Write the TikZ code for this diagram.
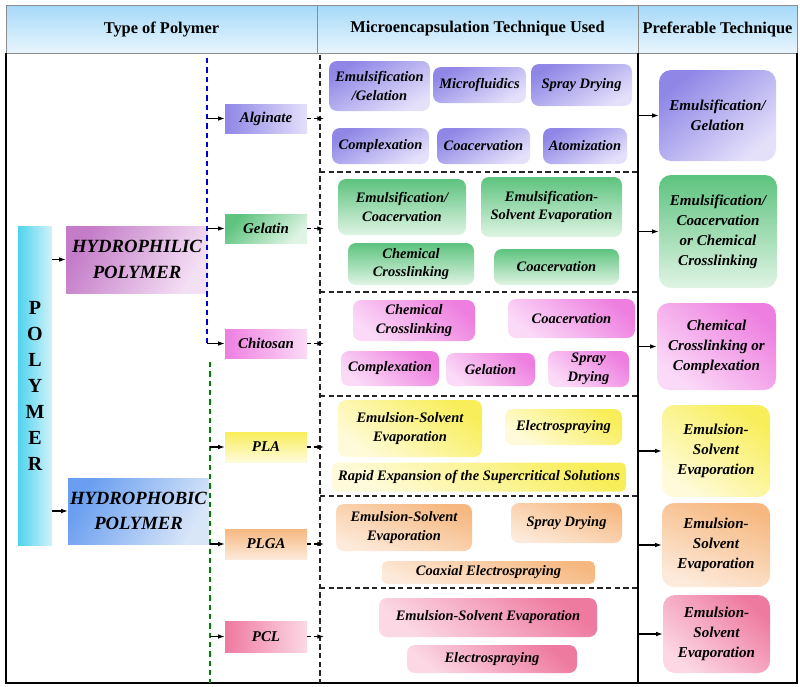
\documentclass[tikz,border=0pt]{standalone}
\usepackage{fontspec}
\setmainfont{Liberation Serif}
\usetikzlibrary{arrows.meta,calc,positioning}

\definecolor{headD}{HTML}{A6D9F8}
\definecolor{headL}{HTML}{E8F5FD}
\definecolor{cyanD}{HTML}{4FD3EE}
\definecolor{cyanL}{HTML}{D2F2F9}
\definecolor{philD}{HTML}{C47CC8}
\definecolor{philL}{HTML}{F4E0F4}
\definecolor{phobD}{HTML}{6A9EF0}
\definecolor{phobL}{HTML}{D8E6F8}
\definecolor{algD}{HTML}{8F86E6}
\definecolor{algL}{HTML}{E4E0FA}
\definecolor{gelD}{HTML}{5DC37E}
\definecolor{gelL}{HTML}{DFF4E4}
\definecolor{chiD}{HTML}{EE7FE0}
\definecolor{chiL}{HTML}{FBDAF7}
\definecolor{plaD}{HTML}{F8EE5A}
\definecolor{plaL}{HTML}{FFFBDA}
\definecolor{plgD}{HTML}{F6B880}
\definecolor{plgL}{HTML}{FDEADA}
\definecolor{pclD}{HTML}{EE7AA0}
\definecolor{pclL}{HTML}{FCD8E4}

\begin{document}
\begin{tikzpicture}[
  x=0.75pt, y=-0.75pt,
  >=Latex,
  wh/.style 2 args={
    minimum width=#1*0.75pt,
    minimum height=#2*0.75pt
  },
  heading/.style={
    font=\bfseries\fontsize{12.3}{14}\selectfont
  },
  techbox/.style={
    rounded corners=6pt,
    inner sep=1pt,
    align=center,
    font=\bfseries\itshape\fontsize{10.85}{14}\selectfont
  },
  prefbox/.style={
    techbox,
    rounded corners=9pt,
    font=\bfseries\itshape\fontsize{11.3}{15}\selectfont
  },
  polybox/.style={
    inner sep=1pt,
    align=center,
    font=\bfseries\itshape\fontsize{11.2}{13}\selectfont
  },
  classbox/.style={
    polybox,
    font=\bfseries\itshape\fontsize{14}{19}\selectfont
  },
  alg/.style={top color=algD, bottom color=algL, shading angle=30},
  gel/.style={top color=gelD, bottom color=gelL},
  chi/.style={top color=chiD, bottom color=chiL, shading angle=-40},
  pla/.style={top color=plaD, bottom color=plaL, shading angle=-35},
  plg/.style={top color=plgD, bottom color=plgL, shading angle=-20},
  pcl/.style={top color=pclD, bottom color=pclL, shading angle=-40},
  branch/.style={
    -{Latex[length=5pt,width=3.5pt]},
    line width=0.8pt,
    black
  },
  feed/.style={
    branch,
    dash pattern=on 3pt off 2pt,
    shorten >=-3pt
  },
  sep/.style={
    dash pattern=on 4pt off 2.5pt,
    line width=0.8pt,
    black!85
  },
  guide/.style={
    dash pattern=on 4pt off 3pt,
    line width=0.8pt
  }
]
\useasboundingbox (0,0) rectangle (800,686);

% Header band
\shade[top color=headD, bottom color=headL, draw=black!45]
  (6,5) rectangle (797,53);
\draw[black!45] (317,5) -- (317,53);
\draw[black!45] (638,5) -- (638,53);
\node[heading] (hType) at (161.5,29) {Type of Polymer};
\node[heading] (hTech) at (477.5,29) {Microencapsulation Technique Used};
\node[heading] (hPref) at (717.5,29) {Preferable Technique};

% Body frame
\draw[line width=1.2pt] (6,53) -- (6,683) -- (797,683) -- (797,53);
\coordinate (divtop) at (638,53);
\coordinate (divbot) at (638,683);
\draw[line width=1pt] (divtop) -- (divbot);
\coordinate (midtop) at (320,55);
\coordinate (midbot) at (320,683);
\draw[sep] (midtop) -- (midbot);
\foreach \y in {172,292,396,496,588}
  \draw[sep] (320,\y) -- (638,\y);

% Polymer classes
\node[polybox, left color=cyanD, right color=cyanL, wh={34}{319},
  font=\bfseries\fontsize{15}{19.5}\selectfont]
  (polymer) at (35,385.5) {P\\O\\L\\Y\\M\\E\\R};
\node[classbox, top color=philD, bottom color=philL, shading angle=60,
  wh={142}{67}] (hphil) at (137,259.5) {HYDROPHILIC\\POLYMER};
\node[classbox, top color=phobD, bottom color=phobL, shading angle=60,
  wh={141}{66}] (hphob) at (138.5,511) {HYDROPHOBIC\\POLYMER};

\draw[branch] (hphil.west -| polymer.east) -- (hphil.west);
\draw[branch] (hphob.west -| polymer.east) -- (hphob.west);

% Polymers
\node[polybox, left color=algD, right color=algL, wh={82}{29}]
  (alginate) at (266,118.5) {Alginate};
\node[polybox, top color=gelD, bottom color=gelL, shading angle=45, wh={82}{29}]
  (gelatin) at (266,228.5) {Gelatin};
\node[polybox, left color=chiD, right color=chiL, wh={82}{29}]
  (chitosan) at (266,343.5) {Chitosan};
\node[polybox, top color=plaD, bottom color=plaL, wh={82}{30}]
  (pla) at (266,447) {PLA};
\node[polybox, top color=plgD, bottom color=plgL, wh={82}{30}]
  (plga) at (266,544) {PLGA};
\node[polybox, left color=pclD, right color=pclL, wh={82}{31}]
  (pcl) at (266,636.5) {PCL};

% Branch lines
\coordinate (philline) at (207,58);
\coordinate (phobline) at (210,362);
\draw[guide, blue!80!black]
  (philline) -- (chitosan.west -| philline);
\draw[guide, green!50!black]
  (phobline) -- (210,683);

\draw[branch] (alginate.west -| philline) -- (alginate.west);
\draw[branch] (gelatin.west -| philline) -- (gelatin.west);
\draw[branch] (chitosan.west -| philline) -- (chitosan.west);
\draw[branch] (pla.west -| phobline) -- (pla.west);
\draw[branch] (plga.west -| phobline) -- (plga.west);
\draw[branch] (pcl.west -| phobline) -- (pcl.west);

\foreach \p in {alginate,gelatin,chitosan,pla,plga,pcl}
  \draw[feed] (\p.east) -- (\p.east -| midtop);

% Alginate techniques
\node[techbox, alg, wh={101}{50}] (aEmGel) at (379.5,86)
  {Emulsification\\/Gelation};
\node[techbox, alg, wh={93}{36}] (aMicro) at (479.5,85) {Microfluidics};
\node[techbox, alg, wh={101}{42}] (aSpray) at (581.5,85) {Spray Drying};
\node[techbox, alg, wh={97}{36}] (aCompl) at (380.5,146) {Complexation};
\node[techbox, alg, wh={93}{36}] (aCoac) at (483.5,146) {Coacervation};
\node[techbox, alg, wh={84}{36}] (aAtom) at (585,146) {Atomization};

% Gelatin techniques
\node[techbox, gel, wh={128}{56}] (gEmCoac) at (402,207)
  {Emulsification/\\Coacervation};
\node[techbox, gel, wh={141}{60}] (gEmSolv) at (551.5,207)
  {Emulsification-\\Solvent Evaporation};
\node[techbox, gel, wh={126}{42}] (gChem) at (411,264)
  {Chemical\\Crosslinking};
\node[techbox, gel, wh={125}{36}] (gCoac) at (556.5,267) {Coacervation};

% Chitosan techniques
\node[techbox, chi, wh={122}{41}] (cChem) at (414,320.5)
  {Chemical\\Crosslinking};
\node[techbox, chi, wh={127}{39}] (cCoac) at (571.5,318.5) {Coacervation};
\node[techbox, chi, wh={98}{35}] (cCompl) at (390,368.5) {Complexation};
\node[techbox, chi, wh={89}{33}] (cGel) at (490.5,369.5) {Gelation};
\node[techbox, chi, wh={81}{36}] (cSpray) at (588.5,369) {Spray\\Drying};

% PLA techniques
\node[techbox, pla, wh={144}{57}] (pEmSolv) at (410,428.5)
  {Emulsion-Solvent\\Evaporation};
\node[techbox, pla, wh={117}{36}] (pElec) at (563.5,427) {Electrospraying};
\node[techbox, pla, rounded corners=4pt, wh={294}{29}] (pRapid) at (479,477)
  {Rapid Expansion of the Supercritical Solutions};

% PLGA techniques
\node[techbox, plg, wh={136}{47}] (lEmSolv) at (404,527.5)
  {Emulsion-Solvent\\Evaporation};
\node[techbox, plg, wh={111}{40}] (lSpray) at (566.5,523) {Spray Drying};
\node[techbox, plg, rounded corners=4pt, wh={213}{23}] (lCoax) at (488.5,572.5)
  {Coaxial Electrospraying};

% PCL techniques
\node[techbox, pcl, wh={218}{39}] (kEmSolv) at (488,617.5)
  {Emulsion-Solvent Evaporation};
\node[techbox, pcl, wh={170}{28}] (kElec) at (492,659) {Electrospraying};

% Preferable techniques
\node[prefbox, top color=algD, bottom color=algL, shading angle=40,
  wh={117}{91}] (rA) at (717.5,115.5) {Emulsification/\\Gelation};
\node[prefbox, gel, wh={118}{113}] (rG) at (718,231.5)
  {Emulsification/\\Coacervation\\or Chemical\\Crosslinking};
\node[prefbox, chi, wh={119}{87}] (rC) at (716.5,346.5)
  {Chemical\\Crosslinking or\\Complexation};
\node[prefbox, pla, wh={108}{92}] (rP) at (716,451)
  {Emulsion-\\Solvent\\Evaporation};
\node[prefbox, plg, wh={108}{84}] (rL) at (716,545)
  {Emulsion-\\Solvent\\Evaporation};
\node[prefbox, pcl, wh={107}{78}] (rK) at (716.5,634)
  {Emulsion-\\Solvent\\Evaporation};

\foreach \r in {rA,rG,rC,rP,rL,rK}
  \draw[branch] (\r.west -| divtop) -- (\r.west);

\end{tikzpicture}
\end{document}
